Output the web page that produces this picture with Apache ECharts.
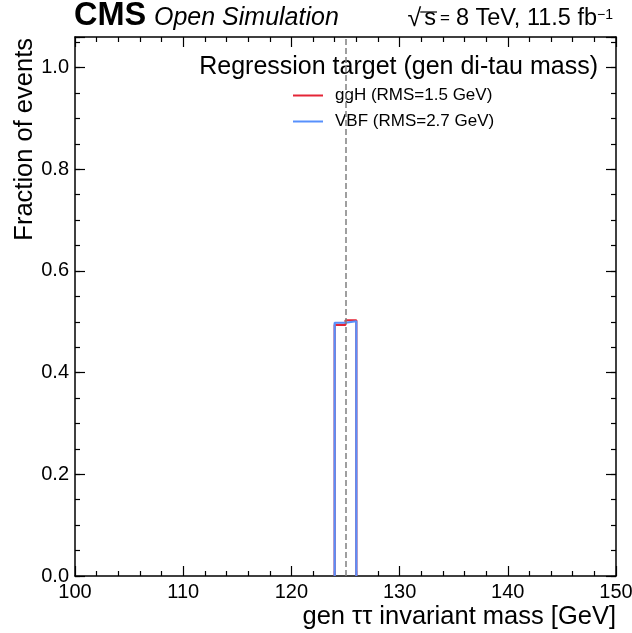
<!DOCTYPE html>
<html>
<head>
<meta charset="utf-8">
<script src="https://cdn.jsdelivr.net/npm/echarts@6/dist/echarts.min.js"></script>
<style>
html,body{margin:0;padding:0;background:#fff;}
#chart{width:632px;height:633px;}
</style>
</head>
<body>
<div id="chart"></div>
<script>
// ---- data ----
const binEdges = [124, 125, 126];
const ggHValues = [0.494, 0.503];
const vbfValues = [0.498, 0.501];
const seriesNames = ['ggH (RMS=1.5 GeV)', 'VBF (RMS=2.7 GeV)'];
const xTickLabels = [100, 110, 120, 130, 140, 150];
const yTickLabels = [0.0, 0.2, 0.4, 0.6, 0.8, 1.0];
const higgsMass = 125;

const FONT = '"Liberation Sans", Arial, Helvetica, sans-serif';
const X_MIN = 100, X_MAX = 150, Y_MIN = 0, Y_MAX = 1.06;

function stepPoints(edges, vals) {
  const pts = [[edges[0], 0]];
  for (let i = 0; i < vals.length; i++) {
    pts.push([edges[i], vals[i]]);
    pts.push([edges[i + 1], vals[i]]);
  }
  pts.push([edges[edges.length - 1], 0]);
  return pts;
}

// text measurement for the header on the right
const mctx = document.createElement('canvas').getContext('2d');
function tw(text, size, extra) {
  mctx.font = (extra || '') + ' ' + size + 'px ' + FONT;
  return mctx.measureText(text).width;
}

const chart = echarts.init(document.getElementById('chart'), null, {renderer: 'canvas'});

const axisLineStyle = {show: true, onZero: false, lineStyle: {color: '#000', width: 1.5}};
function xAx(pos, labels) {
  return {
    type: 'value', position: pos, min: X_MIN, max: X_MAX, interval: 10,
    axisLine: axisLineStyle,
    axisTick: {show: true, inside: true, length: 10, lineStyle: {color: '#000', width: 1.2}},
    minorTick: {show: true, splitNumber: 5, length: 5, lineStyle: {color: '#000', width: 1.2}},
    splitLine: {show: false}, minorSplitLine: {show: false},
    axisLabel: labels ? {
      show: true, fontFamily: FONT, fontSize: 20, color: '#000', margin: 6,
      formatter: v => xTickLabels.indexOf(Math.round(v)) >= 0 && Math.abs(v - Math.round(v)) < 1e-6 ? String(Math.round(v)) : ''
    } : {show: false},
    name: labels ? 'gen ττ invariant mass [GeV]' : '',
    nameLocation: 'end', nameGap: 0,
    nameTextStyle: {fontFamily: FONT, fontSize: 25.5, color: '#000', align: 'right', verticalAlign: 'top', padding: [28, 0, 0, 0]}
  };
}
function yAx(pos, labels, minor) {
  return {
    type: 'value', position: pos, min: Y_MIN, max: Y_MAX, interval: minor ? 0.05 : 0.2,
    axisLine: minor ? {show: false, onZero: false} : axisLineStyle,
    axisTick: {show: true, inside: true, length: minor ? 5 : 10, lineStyle: {color: '#000', width: 1.2}},
    splitLine: {show: false},
    axisLabel: labels ? {
      show: true, fontFamily: FONT, fontSize: 20, color: '#000', margin: 6,
      formatter: v => {
        const k = Math.round(v / 0.2);
        return Math.abs(v - k * 0.2) < 1e-6 && k <= 5 ? yTickLabels[k].toFixed(1) : '';
      }
    } : {show: false}
  };
}

// right header pieces (laid out from the right edge)
const HS = 23.5;
const EQS = 17;
const rightEnd = 613;
const supText = '−1';
const mainText = '8 TeV, 11.5 fb';
const xSup = rightEnd - tw(supText, 14);
const xMain = xSup - tw(mainText, HS);
const xEq = xMain - 6 - tw('=', EQS);
const wS = tw('s', HS);
const xS = xEq - 4 - wS;
const xRoot = xS - 3 - tw('√', 25);
const BASE = 27;
function mid(size) { return BASE - 0.35 * size; }

const option = {
  backgroundColor: '#fff',
  animation: false,
  grid: {left: 75, right: 16, top: 37, bottom: 57, containLabel: false, outerBoundsMode: 'none'},
  xAxis: [xAx('bottom', true), xAx('top', false)],
  yAxis: [yAx('left', true, false), yAx('left', false, true), yAx('right', false, false), yAx('right', false, true)],
  legend: {
    left: 293, top: 87, padding: 0, orient: 'vertical', itemWidth: 30, itemHeight: 2, itemGap: 9,
    icon: 'rect',
    textStyle: {fontFamily: FONT, fontSize: 17, color: '#000', lineHeight: 17, padding: [0, 0, 0, 7]},
    data: seriesNames
  },
  series: [
    {
      name: seriesNames[0], type: 'line', xAxisIndex: 0, yAxisIndex: 0,
      data: stepPoints(binEdges, ggHValues), showSymbol: false, symbol: 'none',
      color: '#e42536', lineStyle: {color: '#e42536', width: 2.2}, z: 3,
      markLine: {
        silent: true, symbol: 'none', label: {show: false},
        lineStyle: {color: '#808080', type: [6, 3], width: 1.5},
        data: [{xAxis: higgsMass}]
      }
    },
    {
      name: seriesNames[1], type: 'line', xAxisIndex: 0, yAxisIndex: 0,
      data: stepPoints(binEdges, vbfValues), showSymbol: false, symbol: 'none',
      color: '#5790fc', lineStyle: {color: '#5790fc', width: 2.2}, z: 4
    }
  ],
  graphic: [
    {type: 'text', x: 74, y: mid(32.5), style: {text: 'CMS', fontFamily: FONT, fontWeight: 'bold', fontSize: 32.5, fill: '#000', verticalAlign: 'middle'}},
    {type: 'text', x: 154, y: mid(25), style: {text: 'Open Simulation', fontFamily: FONT, fontStyle: 'italic', fontSize: 25, fill: '#000', verticalAlign: 'middle'}},
    {type: 'text', x: xRoot, y: mid(25) + 1, style: {text: '√', fontFamily: FONT, fontSize: 25, fill: '#000', verticalAlign: 'middle'}},
    {type: 'text', x: xS, y: mid(HS), style: {text: 's', fontFamily: FONT, fontSize: HS, fill: '#000', verticalAlign: 'middle'}},
    {type: 'line', shape: {x1: xS - 4, y1: 12, x2: xS + wS + 1, y2: 12}, style: {stroke: '#000', lineWidth: 1.2}},
    {type: 'text', x: xEq, y: mid(HS), style: {text: '=', fontFamily: FONT, fontSize: EQS, fill: '#000', verticalAlign: 'middle'}},
    {type: 'text', x: xMain, y: mid(HS), style: {text: mainText, fontFamily: FONT, fontSize: HS, fill: '#000', verticalAlign: 'middle'}},
    {type: 'text', x: xSup, y: 20 - 0.35 * 14, style: {text: supText, fontFamily: FONT, fontSize: 14, fill: '#000', verticalAlign: 'middle'}},
    {type: 'text', x: 598, y: 67, style: {text: 'Regression target (gen di-tau mass)', fontFamily: FONT, fontSize: 25, fill: '#000', align: 'right', verticalAlign: 'middle'}},
    {type: 'text', x: 25, y: 38, rotation: Math.PI / 2, style: {text: 'Fraction of events', fontFamily: FONT, fontSize: 25.5, fill: '#000', align: 'right', verticalAlign: 'middle'}}
  ]
};
chart.setOption(option);
</script>
</body>
</html>
